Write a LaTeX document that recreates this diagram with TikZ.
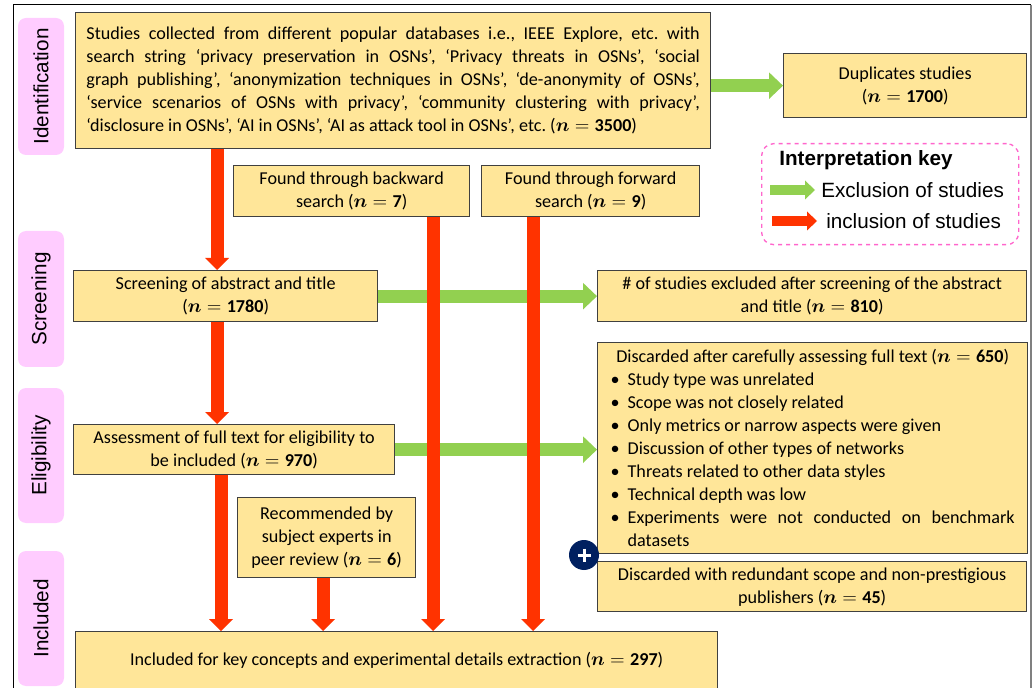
\documentclass[tikz,border=0pt]{standalone}
\usepackage{amsmath}
\usepackage{fontspec}
\setmainfont{Carlito}
\newfontfamily\arialfont{Liberation Sans}
\usetikzlibrary{arrows.meta,calc}

\definecolor{boxfill}{HTML}{FFE699}
\definecolor{boxline}{HTML}{404040}
\definecolor{phasefill}{HTML}{FFCCFF}
\definecolor{exgreen}{HTML}{92D050}
\definecolor{incred}{HTML}{FF3300}
\definecolor{keypink}{HTML}{FF66CC}
\definecolor{navy}{HTML}{002060}

% study counts: (n = ...)
\newcommand{\nn}[1]{(\(\boldsymbol{n}=\mathbf{#1}\))}
\newcommand{\bodysize}{\fontsize{13.6}{17.25}\selectfont\frenchspacing}
% one bullet line with a hanging indent
\newcommand{\bul}{\noindent\hangindent=12.75pt\hangafter=1\makebox[12.75pt][l]{\textbullet}}

\tikzset{
  box/.style={draw=boxline, fill=boxfill, line width=1pt, inner sep=0pt,
    align=center, anchor=north west, font=\bodysize},
  phase/.style={fill=phasefill, rounded corners=6pt, rotate=90, inner sep=0pt,
    minimum height=34.5pt, font=\arialfont\fontsize{15.5}{18}\selectfont},
  inc/.style={draw=incred, line width=9.75pt,
    -{Triangle[width=18pt,length=9pt,line width=0pt]}},
  exc/.style={draw=exgreen, line width=9.75pt,
    -{Triangle[width=20pt,length=10.5pt,line width=0pt]}},
  keyinc/.style={draw=incred, line width=7.5pt,
    -{Triangle[width=14.25pt,length=7.5pt,line width=0pt]}},
  keyexc/.style={draw=exgreen, line width=7.5pt,
    -{Triangle[width=14.25pt,length=7.5pt,line width=0pt]}},
  keytext/.style={anchor=west, inner sep=0pt, font=\arialfont\fontsize{15.5}{18}\selectfont},
}

\begin{document}
\begin{tikzpicture}[x=0.75pt, y=-0.75pt]
\useasboundingbox (0,0) rectangle (1033,688);

% frame
\draw[black, line width=0.75pt] (13,688) -- (13,5) -- (1031,5);
\draw[gray, line width=1.5pt] (1031,5) -- (1031,688);

% phase labels
\node[phase, minimum width=102.75pt] (pident) at (41,86.5) {Identification};
\node[phase, minimum width=102pt] (pscreen) at (41,299) {Screening};
\node[phase, minimum width=101.25pt] (pelig) at (41,455.5) {Eligibility};
\node[phase, minimum width=101.25pt] (pincl) at (41,618.5) {Included};

% boxes
\node[box, minimum width=476.25pt, minimum height=102pt] (studies) at (75,12)
  {\parbox{460pt}{\hyphenpenalty=10000\tolerance=9999\emergencystretch=20pt
   Studies collected from different popular databases i.e., IEEE Explore, etc. with\linebreak
   search string ‘privacy preservation in OSNs’, ‘Privacy threats in OSNs’, ‘social\linebreak
   graph publishing’, ‘anonymization techniques in OSNs’, ‘de-anonymity of OSNs’,\linebreak
   ‘service scenarios of OSNs with privacy’, ‘community clustering with privacy’,\linebreak
   ‘disclosure in OSNs’, ‘AI in OSNs’, ‘AI as attack tool in OSNs’, etc. \nn{3500}}};

\node[box, minimum width=182.25pt, minimum height=48pt] (dup) at (783,53)
  {Duplicates studies\\\nn{1700}};

\node[box, minimum width=177pt, minimum height=38.25pt] (back) at (233,165)
  {Found through backward\\search \nn{7}};
\node[box, minimum width=163.5pt, minimum height=38.25pt] (fwd) at (481,165)
  {Found through forward\\search \nn{9}};

\node[box, minimum width=228pt, minimum height=38.25pt] (screen) at (73,270)
  {Screening of abstract and title\\\nn{1780}};
\node[box, minimum width=321.75pt, minimum height=38.25pt] (excl) at (597,270)
  {\# of studies excluded after screening of the abstract\\and title \nn{810}};

\node[box, minimum width=240.75pt, minimum height=37.5pt] (assess) at (73,424)
  {Assessment of full text for eligibility to\\be included \nn{970}};

\node[box, minimum width=322.5pt, minimum height=158.25pt] (disc) at (597,342)
  {\parbox{303pt}{\hyphenpenalty=10000
   \centering Discarded after carefully assessing full text \nn{650}\par
   \raggedright
   \bul Study type was unrelated\par
   \bul Scope was not closely related\par
   \bul Only metrics or narrow aspects were given\par
   \bul Discussion of other types of networks\par
   \bul Threats related to other data styles\par
   \bul Technical depth was low\par
   \rightskip=0pt\parfillskip=0pt plus 1fil
   \bul Experiments were not conducted on benchmark\linebreak datasets\par}};

\node[box, minimum width=321.75pt, minimum height=37.5pt] (redund) at (597,561)
  {Discarded with redundant scope and non-prestigious\\publishers \nn{45}};

\node[box, minimum width=133.5pt, minimum height=60pt] (recom) at (237,497)
  {Recommended by\\subject experts in\\peer review \nn{6}};

\node[box, minimum width=481.5pt, minimum height=42.75pt] (incl) at (75,631)
  {Included for key concepts and experimental details extraction \nn{297}};

% interpretation key
\node[draw=keypink, dashed, line width=1pt, rounded corners=9pt, anchor=north west,
  minimum width=192.75pt, minimum height=75.75pt] (key) at (761,143) {};
\node[keytext, font=\arialfont\bfseries\fontsize{15.5}{18}\selectfont] (keytitle) at (779,160) {Interpretation key};
\node[keytext] (keyex) at (821,190) {Exclusion of studies};
\node[keytext] (keyin) at (826,221) {inclusion of studies};
\coordinate (kexstart) at (770,190);
\coordinate (kinstart) at (772,221);
\draw[keyexc, shorten >=4.5pt] (kexstart) -- (keyex.west);
\draw[keyinc, shorten >=6.75pt] (kinstart) -- (keyin.west);

% exclusions
\draw[exc] (studies.east |- dup.west) -- (dup.west);
\draw[exc] (screen.east) -- (excl.west);
\draw[exc] (assess.east) -- (assess.east -| disc.west);

% inclusions
\draw[inc] ($(studies.south west)+(142,0)$) -- ($(screen.north west)+(144,0)$);
\draw[inc] ($(screen.south west)+(144,0)$) -- ($(assess.north west)+(144,0)$);
\draw[inc] ($(assess.south west)+(148,0)$) -- ($(incl.north west)+(146,0)$);
\draw[inc] ($(recom.south west)+(86,0)$) -- ($(incl.north west)+(248,0)$);
\draw[inc] ($(back.south west)+(200,0)$) -- ($(incl.north west)+(358,0)$);
\draw[inc] ($(fwd.south west)+(52,0)$) -- ($(incl.north west)+(458,0)$);

% combining mark between the two discard boxes
\node[circle, fill=navy, minimum size=22.5pt, inner sep=0pt] (plus) at (584,555) {};
\draw[white, line width=2.25pt] ($(plus.center)+(-6.5,0)$) -- ($(plus.center)+(6.5,0)$);
\draw[white, line width=2.25pt] ($(plus.center)+(0,-6.5)$) -- ($(plus.center)+(0,6.5)$);
\end{tikzpicture}
\end{document}
